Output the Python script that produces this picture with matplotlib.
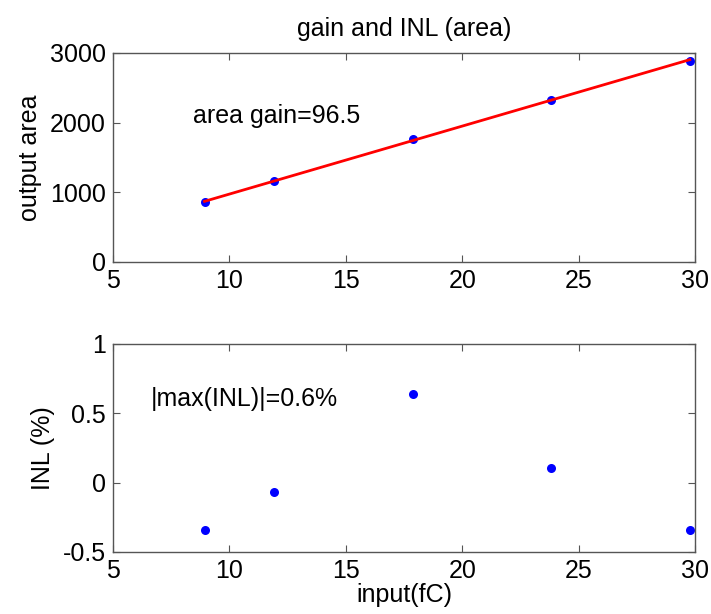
import matplotlib
matplotlib.use("Agg")
import matplotlib.pyplot as plt
import numpy as np

plt.rcParams['font.family'] = ['Liberation Sans', 'DejaVu Sans']

input_fC = [8.93, 11.90, 17.87, 23.80, 29.77]
output_area = [858, 1157, 1769, 2323, 2892]
inl_pct = [-0.345, -0.067, 0.641, 0.106, -0.345]
gain_text = "area gain=96.5"
inl_text = "|max(INL)|=0.6%"

fig = plt.figure(figsize=(7.11, 6.14), dpi=100)
ax1 = fig.add_axes([0.159, 0.5733, 0.8186, 0.3404])
ax2 = fig.add_axes([0.159, 0.1010, 0.8186, 0.3388])

fs = 18
spine_c = '#555555'

def style(ax):
    for s in ax.spines.values():
        s.set_color(spine_c)
        s.set_linewidth(1.0)
    ax.tick_params(direction='in', length=5, width=0.8, colors=spine_c,
                   labelcolor='black', labelsize=fs, top=True, right=True,
                   pad=5)
    ax.set_xlim(5, 30)
    ax.set_xticks([5, 10, 15, 20, 25, 30])

x = np.array(input_fC)
y = np.array(output_area)
p = np.polyfit(x, y, 1)

ax1.plot(x, y, 'o', color='#0000ff', markersize=6.5, markeredgewidth=0, zorder=2)
ax1.plot(x, np.polyval(p, x), '-', color='#ff0000', linewidth=2.0, zorder=3)
ax1.set_ylim(0, 3000)
ax1.set_yticks([0, 1000, 2000, 3000])
style(ax1)
ax1.text(8.42, 2100, gain_text, fontsize=fs, va='center', ha='left')
ax1.set_ylabel('output area', fontsize=fs, labelpad=6)
ax1.set_title('gain and INL (area)', fontsize=18, pad=12)

ax2.plot(x, inl_pct, 'o', color='#0000ff', markersize=6.5, markeredgewidth=0)
ax2.set_ylim(-0.5, 1)
ax2.set_yticks([-0.5, 0, 0.5, 1])
ax2.set_yticklabels(['-0.5', '0', '0.5', '1'])
style(ax2)
ax2.text(6.64, 0.6, inl_text, fontsize=fs, va='center', ha='left')
ax2.set_ylabel('INL (%)', fontsize=fs, labelpad=6)
ax2.set_xlabel('input(fC)', fontsize=18, labelpad=0)

fig.savefig('out.png', dpi=100)
